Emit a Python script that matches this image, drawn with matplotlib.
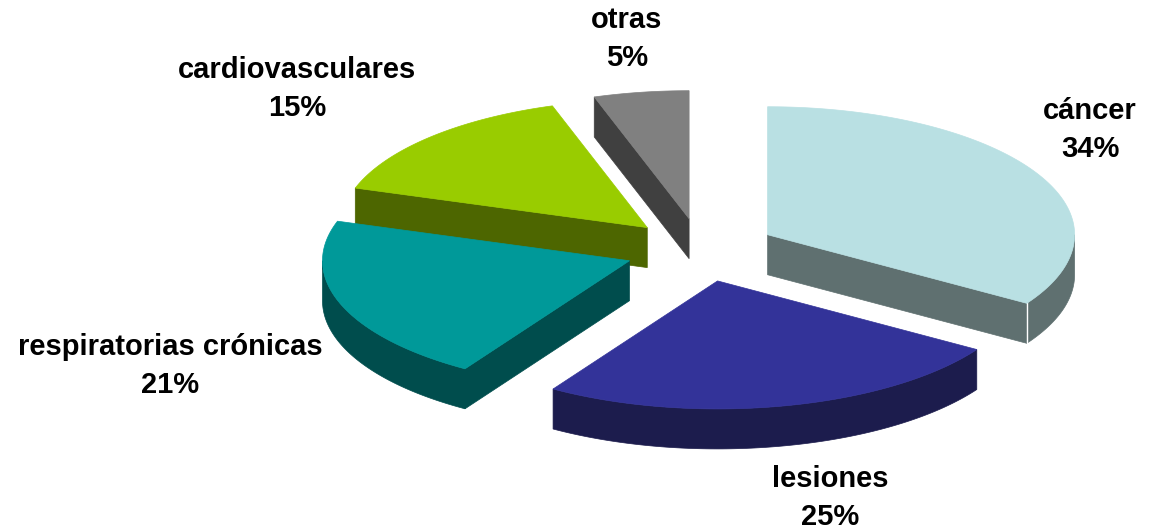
import numpy as np
import matplotlib
matplotlib.use('Agg')
import matplotlib.pyplot as plt
from matplotlib.patches import Polygon

labels = ['cáncer', 'lesiones', 'respiratorias crónicas', 'cardiovasculares', 'otras']
values = [34, 25, 21, 15, 5]
top_colors = ['#b9e0e3', '#333399', '#009999', '#99cc00', '#808080']
side_colors = ['#5f7070', '#1c1c4d', '#004d4d', '#4d6600', '#404040']

# geometry in pixel space (y grows downward)
CX, CY = 701, 250      # pie centre before explosion
RX, RY = 307, 128      # ellipse radii of the top face
DEPTH = 40             # wall thickness
EXPLODE = 76           # outward shift of every slice (x pixels)
START = 90             # first slice starts at 12 o'clock, goes clockwise

fig = plt.figure(figsize=(11.49, 5.32), dpi=100)
ax = fig.add_axes([0, 0, 1, 1])
ax.set_xlim(0, 1149); ax.set_ylim(532, 0); ax.axis('off')

def rim(ax0, ay0, a):
    a = np.radians(a)
    return ax0 + RX*np.cos(a), ay0 - RY*np.sin(a)

fr = np.array(values)/sum(values)
ends = START - 360*np.cumsum(fr)
starts = np.concatenate([[START], ends[:-1]])

slices = []
for i in range(len(values)):
    t2, t1 = starts[i], ends[i]          # ccw end, cw end
    mid = np.radians((t1 + t2)/2)
    apx = CX + EXPLODE*np.cos(mid)
    apy = CY - EXPLODE*RY/RX*np.sin(mid)
    slices.append((apy, i, apx, t1, t2))

# back slices first
for apy, i, apx, t1, t2 in sorted(slices):
    tc, sc = top_colors[i], side_colors[i]
    # curved outer wall, only the front half shows
    lo, hi = t1 % 360, t1 % 360 + (t2 - t1)
    for k in (0, 360):
        a0, a1 = max(lo, 180 + k), min(hi, 360 + k)
        if a1 > a0:
            aa = np.linspace(a0, a1, 120)
            xs, ys = rim(apx, apy, aa)
            pts = list(zip(xs, ys)) + list(zip(xs[::-1], ys[::-1] + DEPTH))
            ax.add_patch(Polygon(pts, closed=True, fc=sc, ec=sc, lw=0.5, zorder=1))
    # radial cut faces facing the viewer
    for a, nrm in ((t2, t2 + 90), (t1, t1 - 90)):
        if np.sin(np.radians(nrm)) < -1e-6:
            rx, ry = rim(apx, apy, a)
            pts = [(apx, apy), (rx, ry), (rx, ry + DEPTH), (apx, apy + DEPTH)]
            ax.add_patch(Polygon(pts, closed=True, fc=sc, ec=sc, lw=0.5, zorder=1))
            if a == t1 and np.sin(np.radians(a)) < 0 and np.cos(np.radians(a)) > 0:
                ax.plot([rx, rx], [ry, ry + DEPTH], color='white', lw=1, zorder=1)
    # top face
    aa = np.linspace(t1, t2, 200)
    xs, ys = rim(apx, apy, aa)
    pts = [(apx, apy)] + list(zip(xs, ys))
    ax.add_patch(Polygon(pts, closed=True, fc=tc, ec=tc, lw=0.5, zorder=1))

# label positions (pixel centres of the two-line labels)
label_xy = [(1090, 130), (830, 498), (170, 366), (297, 89), (627, 39)]
for i, (lx, ly) in enumerate(label_xy):
    ax.text(lx, ly, f'{labels[i]}\n{values[i]}%', ha='center', va='center',
            fontsize=21, fontweight='bold', family='Liberation Sans',
            linespacing=1.45, color='black')

fig.savefig('out.png', dpi=100)
